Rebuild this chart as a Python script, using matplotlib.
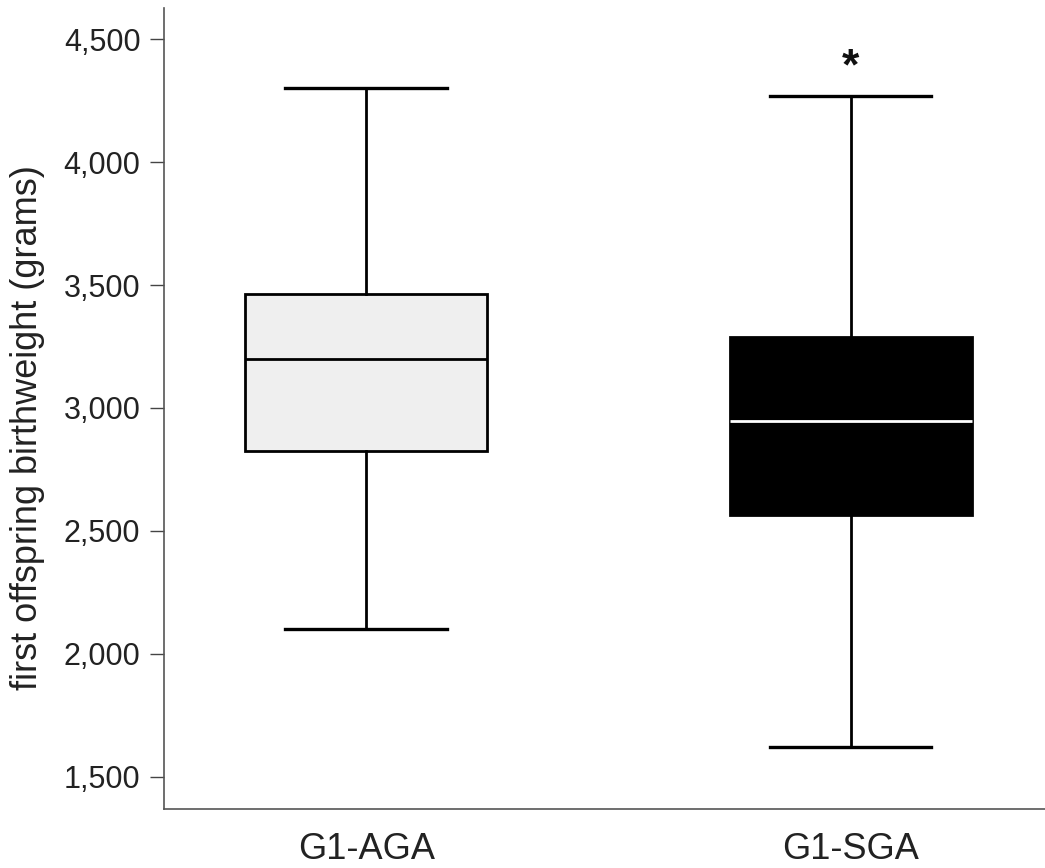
import matplotlib
matplotlib.use("Agg")
import matplotlib.pyplot as plt

plt.rcParams['font.family'] = ['Liberation Sans', 'DejaVu Sans']

# box statistics (grams)
groups = ["G1-AGA", "G1-SGA"]
whisker_low = [2100, 1620]
q1 = [2825, 2565]
median = [3200, 2945]
q3 = [3463, 3290]
whisker_high = [4300, 4268]
box_colours = ["#efefef", "#000000"]
median_colours = ["#000000", "#ffffff"]
y_ticks = [1500, 2000, 2500, 3000, 3500, 4000, 4500]
star_group = 1  # index of the group marked significant


def main():
  fig = plt.figure(figsize=(10.45, 8.68), dpi=100)
  ax = fig.add_axes([0.157, 0.0676, 0.843, 0.9232])

  stats = []
  for i in range(len(groups)):
    stats.append({"label": groups[i], "whislo": whisker_low[i], "q1": q1[i],
                  "med": median[i], "q3": q3[i], "whishi": whisker_high[i]})

  bp = ax.bxp(stats, positions=[1, 2], widths=0.5, capwidths=0.333,
              showfliers=False, patch_artist=True)

  for i in range(len(bp['boxes'])):
    bp['boxes'][i].set(facecolor=box_colours[i], edgecolor='black', linewidth=2)
    bp['medians'][i].set(color=median_colours[i], linewidth=2)
  for whisker in bp['whiskers']:
    whisker.set(color='black', linewidth=2)
  for cap in bp['caps']:
    cap.set(color='black', linewidth=2.4)

  # significance marker above the SGA whisker
  ax.text(star_group + 1, 4385, "*", ha='center', va='center',
          fontsize=32, fontweight='bold', color='#111111')

  ax.set_xlim(0.583, 2.401)
  ax.set_ylim(1367, 4627)
  ax.set_yticks(y_ticks)
  ax.set_yticklabels(["{:,}".format(v) for v in y_ticks])
  ax.set_xticks([1, 2])
  ax.set_xticklabels(groups)

  ax.tick_params(axis='y', length=10, width=1, color='#444444', pad=7,
                 labelsize=22, labelcolor='#222222')
  ax.tick_params(axis='x', length=0, pad=16, labelsize=26, labelcolor='#222222')

  for side in ['top', 'right']:
    ax.spines[side].set_visible(False)
  for side in ['left', 'bottom']:
    ax.spines[side].set_color('#555555')
    ax.spines[side].set_linewidth(1.2)

  ax.set_ylabel("first offspring birthweight (grams)", fontsize=26, color='#222222')
  ax.yaxis.set_label_coords(-0.135, 0.477)

  fig.savefig("out.png", dpi=100)


if __name__ == "__main__":
  main()
